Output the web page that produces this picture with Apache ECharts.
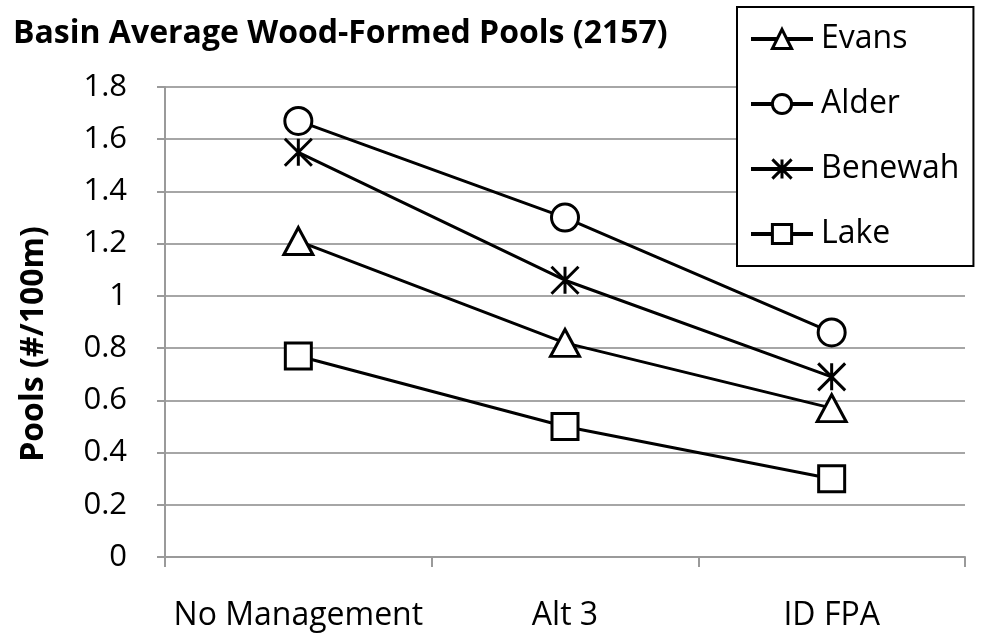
<!DOCTYPE html>
<html>
<head>
<meta charset="utf-8">
<script src="https://cdn.jsdelivr.net/npm/echarts@6/dist/echarts.min.js"></script>
<style>
  html, body { margin: 0; padding: 0; background: #fff; }
  #chart { width: 1001px; height: 637px; }
</style>
</head>
<body>
<div id="chart"></div>
<script>
// Wood-formed pools per 100 m, basin averages by management scenario
const categories = ['No Management', 'Alt 3', 'ID FPA'];
const evans   = [1.21, 0.82, 0.57];
const alder   = [1.67, 1.30, 0.86];
const benewah = [1.55, 1.06, 0.69];
const lake    = [0.77, 0.50, 0.30];
const yTicks  = { min: 0, max: 1.8, step: 0.2 };

const FONT = '"Open Sans", "Liberation Sans", sans-serif';
const STAR = 'path://M0,0L20,20M20,0L0,20M10,0L10,20';

function lineSeries(name, data, symbol, size) {
  return {
    name: name,
    type: 'line',
    data: data,
    symbol: symbol,
    symbolSize: size,
    showAllSymbol: true,
    lineStyle: { color: '#000', width: 3 },
    itemStyle: { color: '#fff', borderColor: '#000', borderWidth: 3 },
    emphasis: { disabled: true },
    animation: false
  };
}

const chart = echarts.init(document.getElementById('chart'), null, { renderer: 'canvas' });
chart.setOption({
  backgroundColor: '#fff',
  animation: false,
  title: {
    text: 'Basin Average Wood-Formed Pools (2157)',
    left: 8, top: 13,
    textStyle: { fontFamily: FONT, fontSize: 32, fontWeight: 'bold', color: '#000' }
  },
  legend: {
    orient: 'vertical',
    left: 737, top: 7,
    padding: [16, 14, 16, 12],
    borderColor: '#000', borderWidth: 2,
    backgroundColor: '#fff',
    itemWidth: 62, itemHeight: 24, itemGap: 33,
    lineStyle: { color: '#000', width: 4 },
    itemStyle: { color: '#fff', borderColor: '#000', borderWidth: 3 },
    textStyle: { fontFamily: FONT, fontSize: 32, color: '#000', padding: [0, 0, 0, 3] },
    data: ['Evans', 'Alder', 'Benewah', 'Lake']
  },
  grid: { left: 165, right: 36, top: 87, bottom: 80 },
  xAxis: {
    type: 'category',
    data: categories,
    boundaryGap: true,
    axisLine: { lineStyle: { color: '#9a9a9a', width: 2 } },
    axisTick: { show: true, length: 10, lineStyle: { color: '#9a9a9a', width: 2 } },
    axisLabel: { interval: 0, hideOverlap: false, margin: 43, fontFamily: FONT, fontSize: 32, color: '#000' },
    splitLine: { show: false }
  },
  yAxis: {
    type: 'value',
    min: yTicks.min, max: yTicks.max, interval: yTicks.step,
    name: 'Pools (#/100m)',
    nameLocation: 'middle',
    nameRotate: 90,
    nameGap: 115,
    nameTextStyle: { fontFamily: FONT, fontSize: 32, fontWeight: 'bold', color: '#000', padding: [0, 44, 0, 0] },
    axisLine: { show: true, lineStyle: { color: '#9a9a9a', width: 2 } },
    axisTick: { show: true, length: 8, lineStyle: { color: '#9a9a9a', width: 2 } },
    axisLabel: { margin: 38, fontFamily: FONT, fontSize: 31, color: '#000' },
    splitLine: { show: true, lineStyle: { color: '#a6a6a6', width: 2 } }
  },
  series: [
    lineSeries('Evans', evans, 'triangle', [29, 27]),
    lineSeries('Alder', alder, 'circle', 27),
    lineSeries('Benewah', benewah, STAR, 27),
    lineSeries('Lake', lake, 'rect', 26)
  ]
});
</script>
</body>
</html>
